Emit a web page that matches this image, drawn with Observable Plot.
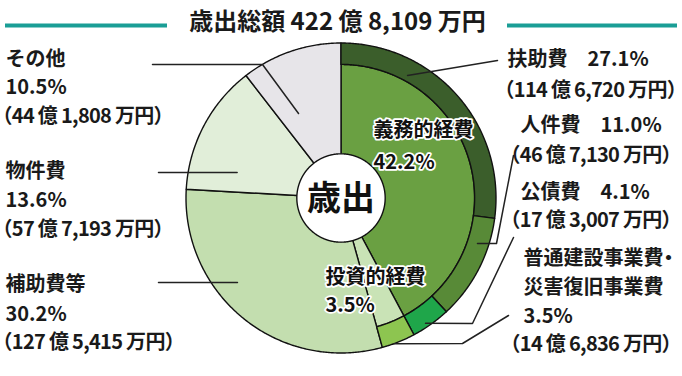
<!DOCTYPE html>
<html><head><meta charset="utf-8">
<script src="https://cdn.jsdelivr.net/npm/d3@7"></script>
<script src="https://cdn.jsdelivr.net/npm/@observablehq/plot@0.6"></script>
<style>
html,body{margin:0;padding:0;background:#fff;}
#chart svg{display:block;font-feature-settings:"halt" 1;}
</style></head><body><div id="chart"></div>
<script>
// ---- data (amounts in 万円, shares in %) ----
const titleLabel = "歳出総額";
const totalAmount = 4228109;
const centerLabel = "歳出";

const innerCategories = ["義務的経費", "投資的経費", "補助費等", "物件費", "その他"];
const innerShares = [42.2, 3.5, 30.2, 13.6, 10.5];

const ringCategories = ["扶助費", "人件費", "公債費", "普通建設事業費・災害復旧事業費"];
const ringParents = ["義務的経費", "義務的経費", "義務的経費", "投資的経費"];
const ringShares = [27.1, 11.0, 4.1, 3.5];
const ringAmounts = [1146720, 467130, 173007, 146836];

const sideCategories = ["その他", "物件費", "補助費等"];
const sideShares = [10.5, 13.6, 30.2];
const sideAmounts = [441808, 577193, 1275415];

// ---- styles ----
const palette = {
  "義務的経費": "#6aa042", "投資的経費": "#c9e3b6", "補助費等": "#c3deaf",
  "物件費": "#e1eed9", "その他": "#e7e5e9",
  "扶助費": "#3b5e2b", "人件費": "#588a37", "公債費": "#1fa64a",
  "普通建設事業費・災害復旧事業費": "#8dc550", "center": "#ffffff"
};
const FONT = "'Noto Sans CJK JP','Noto Sans',sans-serif";
const CX = 340.5, CY = 197.5, R = 155;
const innerR = 0.862, holeR = 0.285;
const ix = px => (px - CX) / R, iy = py => (CY - py) / R;

// ---- geometry from data ----
const polar = (frac, r) => ({x: r * Math.sin(frac * 2 * Math.PI), y: r * Math.cos(frac * 2 * Math.PI)});
function arcPoly(key, a0, a1, r0, r1) {
  const pts = [];
  const n = Math.max(2, Math.ceil((a1 - a0) * 720));
  for (let i = 0; i <= n; i++) pts.push({key, ...polar(a0 + (a1 - a0) * i / n, r1)});
  if (r0 > 0) for (let i = n; i >= 0; i--) pts.push({key, ...polar(a0 + (a1 - a0) * i / n, r0)});
  else pts.push({key, x: 0, y: 0});
  return pts;
}
const withRing = new Set(ringParents);
const slices = [];
let acc = 0;
innerCategories.forEach((c, i) => {
  const a0 = acc / 100, a1 = (acc + innerShares[i]) / 100;
  slices.push(...arcPoly(c, a0, a1, 0, withRing.has(c) ? innerR : 1));
  acc += innerShares[i];
});
acc = 0;
ringCategories.forEach((c, i) => {
  slices.push(...arcPoly(c, acc / 100, (acc + ringShares[i]) / 100, innerR, 1));
  acc += ringShares[i];
});
const hole = arcPoly("center", 0, 1, 0, holeR).filter(p => !(p.x === 0 && p.y === 0));

// ---- text helpers ----
const fmtAmount = v => `（${Math.floor(v / 10000)} 億 ${d3.format(",d")(v % 10000)} 万円）`;
const fmtPct = v => d3.format(".1f")(v) + "%";
const fmtTitle = v => `${titleLabel} ${Math.floor(v / 10000)} 億 ${d3.format(",d")(v % 10000)} 万円`;

function lab(text, px, py, o = {}) {
  return Plot.text([text], {text: d => d, frameAnchor: "top-left", dx: px, dy: py,
    textAnchor: "start", lineAnchor: "middle", fontSize: 20, fontWeight: 700,
    fill: "#1a1a1a", fontFamily: FONT, ...o});
}

// leader lines: start at pie (angle deg, radius), then layout points (px)
const leaderLayout = [
  {k: "その他", a: 333.3, r: 0.61, pts: [[262, 64], [152, 64]]},
  {k: "物件費", a: 283.8, r: 0.69, pts: [[158, 172]]},
  {k: "補助費等", a: 230.8, r: 0.862, pts: [[158, 282]]},
  {k: "扶助費", a: 28.5, r: 0.9, pts: [[497, 60]]},
  {k: "人件費", a: 108.4, r: 0.928, pts: [[496, 243], [513, 155]]},
  {k: "公債費", a: 146, r: 0.975, pts: [[472, 323], [513, 237]]},
  {k: "普通建設", a: 160.2, r: 1.0, pts: [[462, 343], [508, 315]]}
];
const leaders = leaderLayout.flatMap(l => [
  {k: l.k, ...polar(l.a / 360, l.r)},
  ...l.pts.map(([px, py]) => ({k: l.k, x: ix(px), y: iy(py)}))
]);

const sideY = [[59, 87.5, 116], [171, 200, 229], [284, 314, 342]];
const sideMarks = sideCategories.flatMap((c, i) => [
  lab(c, 5, sideY[i][0]), lab(fmtPct(sideShares[i]), 5, sideY[i][1]),
  lab(fmtAmount(sideAmounts[i]), 2, sideY[i][2])
]);

const ringMarks = [
  lab(ringCategories[0] + "　" + fmtPct(ringShares[0]), 507, 59),
  lab(fmtAmount(ringAmounts[0]), 504, 90),
  lab(ringCategories[1] + "　" + fmtPct(ringShares[1]), 520, 125),
  lab(fmtAmount(ringAmounts[1]), 510, 155),
  lab(ringCategories[2] + "　" + fmtPct(ringShares[2]), 520, 192),
  lab(fmtAmount(ringAmounts[2]), 510, 220),
  lab(ringCategories[3].split("・")[0] + "・", 523, 258),
  lab(ringCategories[3].split("・")[1], 523, 287),
  lab(fmtPct(ringShares[3]), 523, 316),
  lab(fmtAmount(ringAmounts[3]), 510, 344)
];

const halo = {stroke: "white", strokeWidth: 3.5, fill: "#111"};
const innerMarks = [
  lab(innerCategories[0], 373, 130, halo), lab(fmtPct(innerShares[0]), 373, 162, halo),
  lab(innerCategories[1], 325, 277, halo), lab(fmtPct(innerShares[1]), 325, 305, halo)
];

const plot = Plot.plot({
  width: 682, height: 376, margin: 0,
  x: {domain: [-1, 1], range: [CX - R, CX + R], axis: null},
  y: {domain: [-1, 1], range: [CY + R, CY - R], axis: null},
  color: {domain: Object.keys(palette), range: Object.values(palette)},
  style: {fontFamily: FONT, background: "#fff"},
  marks: [
    Plot.line(slices, {x: "x", y: "y", z: "key", fill: "key", stroke: "#111", strokeWidth: 1.4,
      curve: "linear-closed", strokeLinejoin: "round"}),
    Plot.line(leaders, {x: "x", y: "y", z: "k", stroke: "#222", strokeWidth: 1.5}),
    Plot.line(hole, {x: "x", y: "y", fill: "#fff", stroke: "#111", strokeWidth: 1.4, curve: "linear-closed"}),
    Plot.text([centerLabel], {text: d => d, x: 0, y: 0, fontSize: 34, fontWeight: 700, fill: "#111", dy: 1}),
    Plot.ruleY([iy(25)], {x1: ix(5), x2: ix(167), stroke: "#1a9e96", strokeWidth: 4}),
    Plot.ruleY([iy(25)], {x1: ix(507), x2: ix(677), stroke: "#1a9e96", strokeWidth: 4}),
    Plot.text([fmtTitle(totalAmount)], {text: d => d, frameAnchor: "top-left", dx: 337, dy: 22,
      textAnchor: "middle", lineAnchor: "middle", fontSize: 24, fontWeight: 700, fill: "#1a1a1a"}),
    ...sideMarks, ...ringMarks, ...innerMarks
  ]
});
d3.select(plot).selectAll("text")
  .filter(function () { return this.textContent.startsWith("（"); })
  .style("letter-spacing", "-0.7px");
document.getElementById("chart").appendChild(plot);
</script></body></html>
